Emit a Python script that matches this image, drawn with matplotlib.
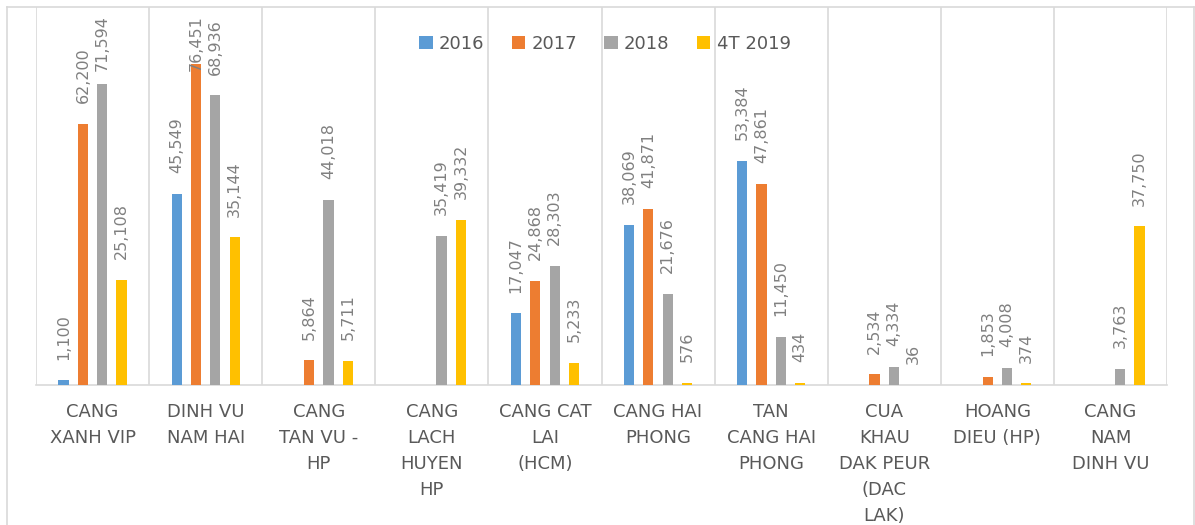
import numpy as np
import matplotlib.pyplot as plt
from matplotlib.lines import Line2D

categories = ["CANG\nXANH VIP", "DINH VU\nNAM HAI", "CANG\nTAN VU -\nHP",
              "CANG\nLACH\nHUYEN\nHP", "CANG CAT\nLAI\n(HCM)", "CANG HAI\nPHONG",
              "TAN\nCANG HAI\nPHONG", "CUA\nKHAU\nDAK PEUR\n(DAC\nLAK)",
              "HOANG\nDIEU (HP)", "CANG\nNAM\nDINH VU"]
series = ["2016", "2017", "2018", "4T 2019"]
nan = np.nan
v2016 = [1100, 45549, nan, nan, 17047, 38069, 53384, nan, nan, nan]
v2017 = [62200, 76451, 5864, nan, 24868, 41871, 47861, 2534, 1853, nan]
v2018 = [71594, 68936, 44018, 35419, 28303, 21676, 11450, 4334, 4008, 3763]
v2019 = [25108, 35144, 5711, 39332, 5233, 576, 434, 36, 374, 37750]
values = [v2016, v2017, v2018, v2019]
colors = ["#5B9BD5", "#ED7D31", "#A5A5A5", "#FFC000"]

W, H = 1195, 525
fig = plt.figure(figsize=(W / 100, H / 100), dpi=100)
ax = fig.add_axes([36 / W, 1 - 385 / H, (1167 - 36) / W, (385 - 7) / H])

# outer chart frame
fc = "#d9d9d9"
fig.add_artist(Line2D([7 / W, 7 / W], [0, 1 - 7 / H], color=fc, lw=1.2))
fig.add_artist(Line2D([7 / W, 1194 / W], [1 - 7 / H, 1 - 7 / H], color=fc, lw=1.2))
fig.add_artist(Line2D([1194 / W, 1194 / W], [0, 1 - 7 / H], color=fc, lw=1.2))

x = np.arange(len(categories))
step = 0.171
width = 0.09
labels = []
for i, (vals, col, name) in enumerate(zip(values, colors, series)):
    pos = x + (i - 1.5) * step
    ax.bar(pos, vals, width=width, color=col, label=name, zorder=3)
    for p, v in zip(pos, vals):
        if np.isnan(v):
            continue
        t = ax.annotate(f"{int(v):,}", (p, v), xytext=(0, 15), textcoords="offset points",
                        rotation=90, ha="center", va="bottom", fontsize=11.5,
                        color="#808080", annotation_clip=False)
        labels.append(t)

ax.set_xlim(-0.5, len(categories) - 0.5)
ax.set_ylim(0, 90000)
ax.set_yticks([])
ax.set_xticks(x)
ax.set_xticklabels(categories, fontsize=13, color="#595959", linespacing=1.57)
ax.set_xticks(np.arange(-0.5, len(categories)), minor=True)
ax.tick_params(axis="x", which="both", length=0, pad=13)
ax.grid(axis="x", which="minor", color=fc, lw=1.2, zorder=0)
for s in ["top", "left", "right"]:
    ax.spines[s].set_visible(False)
ax.spines["bottom"].set_color(fc)
ax.spines["bottom"].set_linewidth(1.2)

ax.legend(loc="center", bbox_to_anchor=(0.503, 0.902), ncol=4, frameon=False,
          fontsize=13, labelcolor="#595959", handlelength=0.75, handleheight=0.75,
          handletextpad=0.35, columnspacing=1.5)

# keep the value labels inside the chart frame
fig.canvas.draw()
r = fig.canvas.get_renderer()
for t in labels:
    bb = t.get_window_extent(r)
    limit = H - 15
    if bb.y1 > limit:
        t.xyann = (0, 15 - (bb.y1 - limit) * 72 / 100)

fig.savefig("out.png", dpi=100)
